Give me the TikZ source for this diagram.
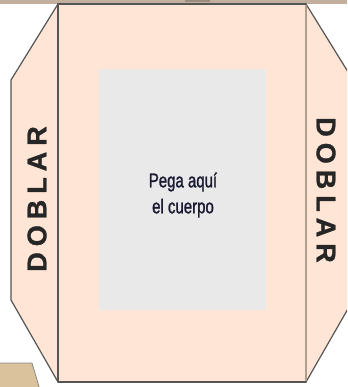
\documentclass[tikz,border=0pt]{standalone}
\usepackage{fontspec}
\setmainfont{Liberation Sans}
\definecolor{peach}{HTML}{FFE5D5}
\definecolor{padgray}{HTML}{E9E9E9}
\definecolor{striptan}{HTML}{C2AF9E}
\definecolor{tabtan}{HTML}{D9C29C}
\definecolor{edge}{HTML}{555555}
\definecolor{txtblue}{HTML}{1A1A33}
\newcommand{\spaced}[1]{\def\gapx{\hspace{6pt}}D\gapx O\gapx B\gapx L\gapx A\gapx R}
\tikzset{
  flap/.style={fill=peach, draw=edge, line width=1.2pt, line join=round},
  foldtxt/.style={font=\fontsize{27}{30}\selectfont\bfseries\addfontfeature{FakeBold=1.2}, text=black!85, inner sep=0pt},
  padtxt/.style={font=\fontsize{20}{26}\selectfont\addfontfeature{FakeBold=1.5}, text=txtblue, align=center, inner sep=0pt}
}
\begin{document}
\begin{tikzpicture}[x=1pt,y=-1pt]
\useasboundingbox (0,0) rectangle (347,387);
\clip (0,0) rectangle (347,387);
% top strip
\fill[striptan] (-2,-2) rectangle (349,4);
\fill[striptan!80!black] (185,-2) rectangle (210,2);
% left flap
\draw[flap] (58,4) -- (11,80) -- (11,300) -- (58,382) -- cycle;
% right flap
\draw[flap] (306,4) -- (353,80) -- (353,300) -- (306,382) -- cycle;
% centre panel
\draw[flap] (58,4) rectangle (306,382);
\draw[striptan!90!black, line width=1.2pt] (306,5) -- (306,381);
% pad
\fill[padgray] (99,69) rectangle (266,310);
% bottom tab
\draw[fill=tabtan, draw=edge!70, line width=0.8pt] (-2,363) -- (32,363) -- (40,390) -- (-2,390) -- cycle;
% texts
\node[padtxt] (pega) at (183,195) {\scalebox{0.75}[1]{Pega aquí}\\\scalebox{0.75}[1]{el cuerpo}};
\node[foldtxt, rotate=90] (dl) at (37,199) {\spaced{}};
\node[foldtxt, rotate=-90] (dr) at (326,190) {\spaced{}};
\end{tikzpicture}
\end{document}
